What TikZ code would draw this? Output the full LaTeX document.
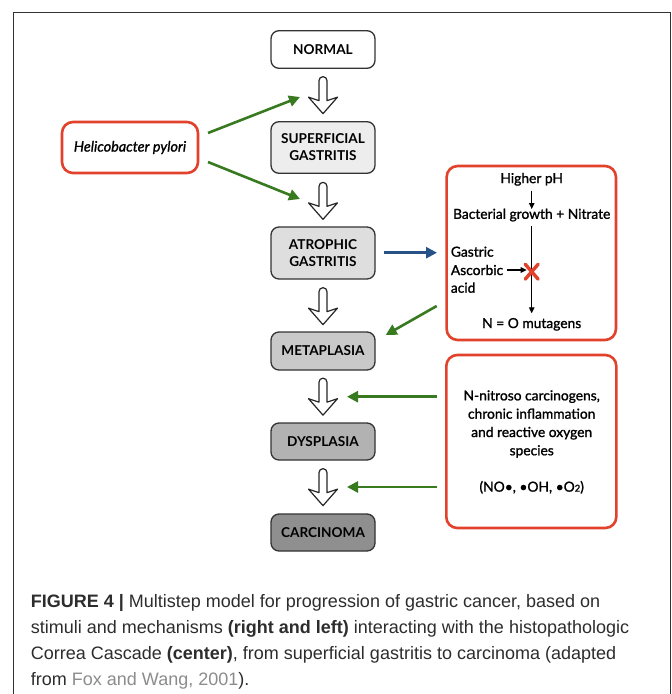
\documentclass[tikz,border=0pt]{standalone}
\usepackage{fontspec}
\setmainfont{Lato}
\newfontfamily\medfont[FakeBold=1.3]{Lato}
\newfontfamily\capfont{Liberation Sans}
\usetikzlibrary{arrows.meta,calc}
\definecolor{redbox}{RGB}{226,66,44}
\definecolor{gr}{RGB}{56,122,32}
\definecolor{bl}{RGB}{38,82,135}
\definecolor{frame}{RGB}{50,50,50}
\definecolor{captxt}{RGB}{45,45,45}
\definecolor{capgray}{RGB}{140,140,140}
\tikzset{
  pics/hollow/.style={code={
    \draw[line width=1.2pt, line join=round, fill=white, draw=black!85]
      (-4,24) -- (-4,4) arc[start angle=180, end angle=360, radius=4]
      -- (4,24) -- (14.5,20.5) -- (0,37) -- (-14.5,20.5) -- cycle;
  }}
}
\begin{document}
\begin{tikzpicture}[x=1pt,y=-1pt,
  stage/.style={draw=black!80, line width=1.3pt, rounded corners=8pt,
    minimum width=104pt, inner sep=0pt, align=center,
    font=\fontsize{13.6}{17}\selectfont\bfseries},
  redb/.style={draw=redbox, line width=2.6pt, rounded corners=11pt, inner sep=0pt},
  garrow/.style={draw=gr, line width=2.6pt, -{Triangle[length=11pt,width=11pt]}},
  barrow/.style={draw=bl, line width=2.6pt, -{Triangle[length=11pt,width=11pt]}},
  blk/.style={draw=black, line width=1.1pt, -{Triangle[length=6pt,width=5.5pt]}},
  intext/.style={inner sep=0pt, font=\medfont\fontsize{13.8}{18.3}\selectfont},
  captext/.style={inner sep=0pt, anchor=base west, text=captxt,
    font=\capfont\fontsize{18}{26}\selectfont}
]
\useasboundingbox (0,0) rectangle (672,694);
\fill[white] (0,0) rectangle (672,694);
% outer frame
\draw[frame, line width=1pt] (13,694) -- (13,12.5) -- (670,12.5) -- (670,694);

% central cascade
\node[stage, fill=white, minimum height=37.6pt] (normal) at (323,49.5) {NORMAL};
\node[stage, fill=black!7, minimum height=51.6pt] (superficial) at (323,147.5) {SUPERFICIAL\\GASTRITIS};
\node[stage, fill=black!13, minimum height=52pt] (atrophic) at (323,253) {ATROPHIC\\GASTRITIS};
\node[stage, fill=black!21, minimum height=38pt] (metaplasia) at (323,351) {METAPLASIA};
\node[stage, fill=black!30, minimum height=37pt] (dysplasia) at (323,441.5) {DYSPLASIA};
\node[stage, fill=black!44, minimum height=37pt] (carcinoma) at (323,532.5) {CARCINOMA};

\pic at ($(normal.south)+(0,7.7)$) {hollow};
\pic at ($(superficial.south)+(0,8.4)$) {hollow};
\pic at ($(atrophic.south)+(0,8)$) {hollow};
\pic at ($(metaplasia.south)+(0,7.5)$) {hollow};
\pic at ($(dysplasia.south)+(0,8)$) {hollow};

% Helicobacter
\node[redb, minimum width=136pt, minimum height=51pt,
  font=\medfont\itshape\fontsize{14.4}{16}\selectfont] (hp) at (130,147.5) {Helicobacter pylori};

% right box 1
\node[redb, minimum width=169.3pt, minimum height=174pt] (box1) at (531.3,253) {};
\node[intext] (higher) at (531.7,179.3) {Higher pH};
\node[intext] (bact) at (531.7,215) {Bacterial growth + Nitrate};
\node[intext, anchor=west] (gastric) at (450.7,251.7) {Gastric};
\node[intext, anchor=west] (ascorbic) at (450.7,270) {Ascorbic};
\node[intext, anchor=west] (acid) at (450.7,287.7) {acid};
\node[intext] (muta) at (531.7,324.3) {N = O mutagens};
\coordinate (xmark) at (531.7,271.7);
\coordinate (pHend) at (531.7,190.7);
\coordinate (bactend) at (531.7,209);
\coordinate (longs) at (531.7,226);
\coordinate (longe) at (531.7,313.3);
\coordinate (ascs) at (506.7,270);
\coordinate (asce) at (526.7,270);
\draw[blk] (pHend) -- (bactend);
\draw[blk] (longs) -- (longe);
\draw[blk] (ascs) -- (asce);
\draw[redbox, line width=3.4pt, line cap=round]
  ($(xmark)+(-6.5,-7.5)$) -- ($(xmark)+(6.5,7.5)$)
  ($(xmark)+(6.5,-7.5)$) -- ($(xmark)+(-6.5,7.5)$);

% right box 2
\node[redb, minimum width=170pt, minimum height=173pt] (box2) at (531.3,441.5) {};
\node[intext, align=center] (mech) at (531.7,424) {N-nitroso carcinogens,\\chronic inflammation\\and reactive oxygen\\species};
\node[intext] (radicals) at (531.7,487.3) {(NO\textbullet, \textbullet OH, \textbullet O{\fontsize{9.5}{10}\selectfont 2})};

% connectors
\coordinate (g1s) at (208,133);
\coordinate (g1e) at (300,97);
\coordinate (g2s) at (208,162);
\coordinate (g2e) at (300,199);
\coordinate (bs) at (384,252.7);
\coordinate (be) at (437,252.7);
\coordinate (g3s) at (436.7,306);
\coordinate (g3e) at (385.7,335);
\coordinate (g4s) at (437,396.7);
\coordinate (g4e) at (347,396.7);
\coordinate (g5s) at (437,487);
\coordinate (g5e) at (347,487);
\draw[garrow] (g1s) -- (g1e);
\draw[garrow] (g2s) -- (g2e);
\draw[barrow] (bs) -- (be);
\draw[garrow] (g3s) -- (g3e);
\draw[garrow] (g4s) -- (g4e);
\draw[garrow] (g5s) -- (g5e);

% caption
\node[captext] (cap1) at (30.7,607.3) {{\bfseries FIGURE 4 |} Multistep model for progression of gastric cancer, based on};
\node[captext] (cap2) at (30.7,633.3) {stimuli and mechanisms {\bfseries (right and left)} interacting with the histopathologic};
\node[captext] (cap3) at (30.7,659.6) {Correa Cascade {\bfseries (center)}, from superficial gastritis to carcinoma (adapted};
\node[captext] (cap4) at (30.7,685.8) {from {\color{capgray}Fox and Wang, 2001}).};
\end{tikzpicture}
\end{document}
